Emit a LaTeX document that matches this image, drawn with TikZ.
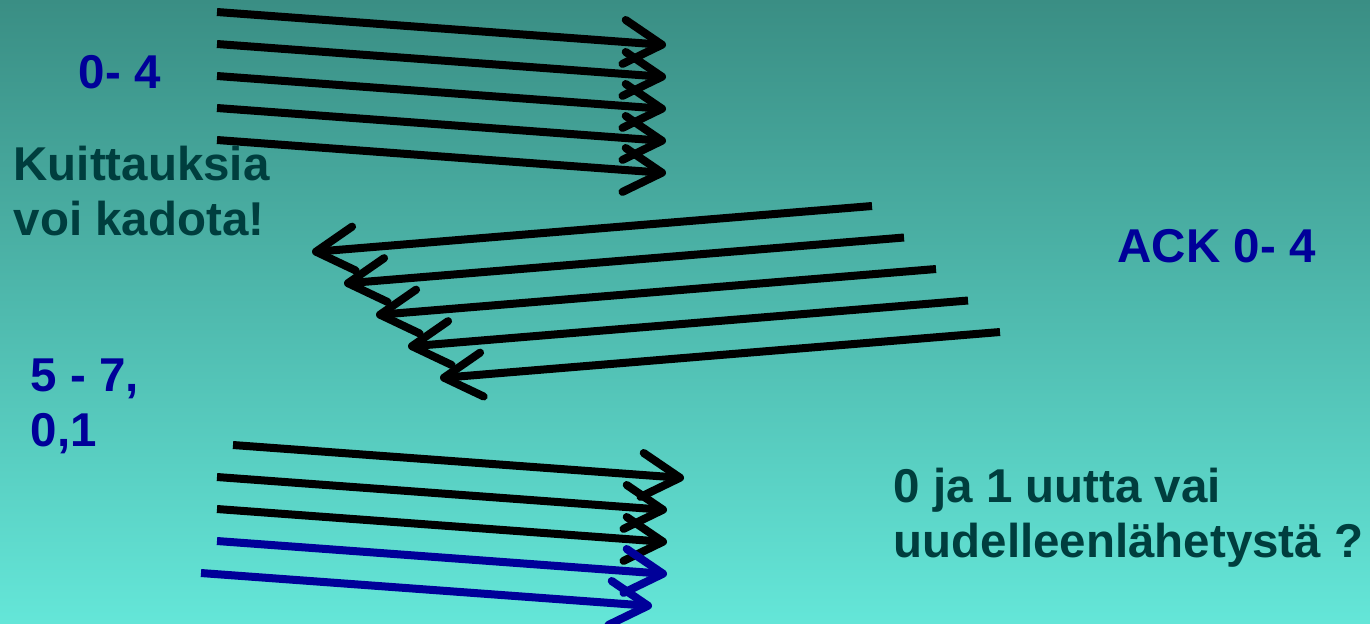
\documentclass[tikz,border=0pt]{standalone}
\usepackage{fontspec}
\setmainfont{Liberation Sans}
\usetikzlibrary{arrows.meta}
\definecolor{bgtop}{RGB}{58,142,132}
\definecolor{bgbot}{RGB}{100,230,216}
\definecolor{seqblue}{RGB}{0,0,153}
\definecolor{notegreen}{RGB}{0,62,62}
\tikzset{
  seq/.style={inner sep=0pt,anchor=base west,text=seqblue,font=\bfseries\fontsize{13.5}{15.4}\selectfont,align=left},
  note/.style={inner sep=0pt,anchor=base west,text=notegreen,font=\bfseries\fontsize{13.5}{15.4}\selectfont,align=left},
  frame/.style={line width=0.08cm,->},
}
\begin{document}
\begin{tikzpicture}[x=0.01cm,y=-0.01cm,>={Straight Barb[length=0.38cm,width=0.44cm,round]},line join=round]
	\shade[top color=bgtop,bottom color=bgbot] (0,0) rectangle (1370,623);
	\useasboundingbox (0,0) rectangle (1370,623);
	% frames 0-4
	\foreach \i in {0,...,4}{
		\coordinate (a\i) at (217,12+32*\i);
		\coordinate (b\i) at (666,45+32*\i);
		\draw[frame] (a\i)--(b\i);
	}
	% acks 0-4
	\foreach \i in {0,...,4}{
		\coordinate (c\i) at (872+32*\i,206+31.5*\i);
		\coordinate (d\i) at (312+32*\i,252+31.5*\i);
		\draw[frame] (c\i)--(d\i);
	}
	% frames 5-7, 0, 1
	\coordinate (e0) at (233,445); \coordinate (f0) at (684,478);
	\coordinate (e1) at (217,477); \coordinate (f1) at (667,510);
	\coordinate (e2) at (217,509); \coordinate (f2) at (667,542);
	\coordinate (e3) at (217,541); \coordinate (f3) at (667,574);
	\coordinate (e4) at (201,573); \coordinate (f4) at (652,606);
	\foreach \i in {0,1,2} \draw[frame] (e\i)--(f\i);
	\foreach \i in {3,4} \draw[frame,seqblue] (e\i)--(f\i);
	% labels
	\node[seq] (first) at (78,88) {0- 4};
	\node[note] (lost) at (13,235) {Kuittauksia\\voi kadota!};
	\node[seq] (ack) at (1117,262) {ACK 0- 4};
	\node[seq] (second) at (30,446) {5 - 7,\\0,1};
	\node[note] (question) at (893,557) {0 ja 1 uutta vai\\uudelleenlähetystä ?};
\end{tikzpicture}
\end{document}
